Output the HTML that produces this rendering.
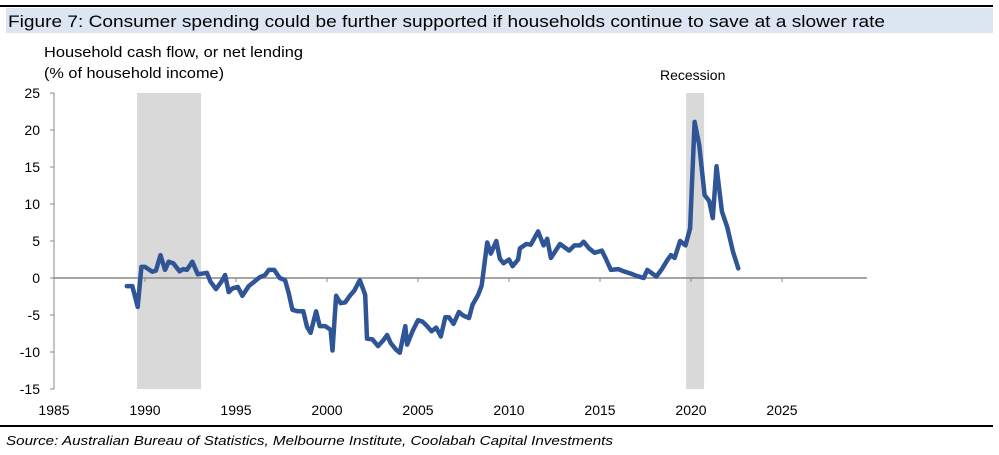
<!DOCTYPE html>
<html><head><meta charset="utf-8"><style>
body{margin:0;background:#fff;width:999px;height:455px;overflow:hidden;font-family:"Liberation Sans",sans-serif}
svg{display:block}
</style></head><body>
<svg width="999" height="455" id="c">
<line x1="0" y1="6" x2="993" y2="6" stroke="#000" stroke-width="2"/>
<rect x="6" y="8" width="987" height="25" fill="#dce6f2"/>
<text x="8" y="27" font-size="17" textLength="877" lengthAdjust="spacingAndGlyphs" fill="#000">Figure 7: Consumer spending could be further supported if households continue to save at a slower rate</text>
<text x="44" y="57" font-size="14.5" textLength="259" lengthAdjust="spacingAndGlyphs">Household cash flow, or net lending</text>
<text x="44" y="78" font-size="14.5" textLength="180" lengthAdjust="spacingAndGlyphs">(% of household income)</text>
<text x="660" y="80" font-size="14">Recession</text>
<g id="bands"></g>
<g id="axes"></g>
<g id="series"></g>
<line x1="0" y1="426" x2="993" y2="426" stroke="#000" stroke-width="2"/>
<text x="6" y="445" font-size="13" font-style="italic" textLength="607" lengthAdjust="spacingAndGlyphs">Source: Australian Bureau of Statistics, Melbourne Institute, Coolabah Capital Investments</text>
</svg>
<script>
const years=[1989.0,1989.3,1989.6,1989.8,1990.0,1990.4,1990.6,1990.85,1991.1,1991.3,1991.55,1991.9,1992.1,1992.3,1992.6,1992.9,1993.4,1993.6,1993.9,1994.2,1994.4,1994.6,1994.8,1995.1,1995.35,1995.7,1996.0,1996.3,1996.6,1996.8,1997.1,1997.4,1997.7,1997.9,1998.1,1998.4,1998.7,1998.9,1999.1,1999.4,1999.6,1999.9,2000.2,2000.3,2000.5,2000.75,2001.0,2001.25,2001.5,2001.8,2002.0,2002.1,2002.2,2002.5,2002.8,2003.1,2003.3,2003.5,2003.8,2004.0,2004.3,2004.4,2004.7,2005.0,2005.25,2005.5,2005.75,2006.0,2006.25,2006.5,2006.7,2006.95,2007.25,2007.5,2007.8,2008.0,2008.3,2008.5,2008.8,2009.0,2009.3,2009.5,2009.7,2010.0,2010.2,2010.5,2010.6,2010.95,2011.2,2011.6,2011.9,2012.1,2012.3,2012.8,2013.3,2013.6,2013.9,2014.1,2014.4,2014.7,2015.1,2015.3,2015.6,2016.0,2016.3,2016.7,2017.0,2017.4,2017.6,2018.1,2018.4,2018.7,2018.9,2019.1,2019.4,2019.7,2019.95,2020.2,2020.45,2020.75,2021.0,2021.2,2021.4,2021.7,2022.0,2022.3,2022.6];
const values=[-1.1,-1.1,-3.9,1.5,1.5,0.85,1.0,3.1,1.1,2.2,2.0,0.9,1.2,1.1,2.2,0.5,0.7,-0.5,-1.5,-0.5,0.4,-1.9,-1.4,-1.2,-2.4,-1.1,-0.5,0.1,0.4,1.1,1.1,0,-0.3,-2.1,-4.3,-4.5,-4.5,-6.6,-7.4,-4.5,-6.5,-6.5,-7.0,-9.8,-2.4,-3.4,-3.3,-2.4,-1.7,-0.3,-1.6,-2.3,-8.2,-8.3,-9.2,-8.4,-7.7,-8.8,-9.7,-10.1,-6.5,-9.0,-7.2,-5.7,-5.9,-6.5,-7.2,-6.7,-7.9,-5.3,-5.3,-6.2,-4.6,-5.1,-5.4,-3.6,-2.3,-1.0,4.8,3.3,5.0,2.6,2.0,2.5,1.6,2.5,4.0,4.6,4.5,6.3,4.4,5.3,2.7,4.6,3.7,4.4,4.4,4.9,4.0,3.4,3.7,2.7,1.1,1.2,0.9,0.6,0.3,0,1.1,0.2,1.2,2.4,3.1,2.7,5.0,4.4,6.7,21.1,18.0,11.2,10.4,8.1,15.1,9.0,6.8,3.6,1.3];
const recessionStart=[1989.56,2019.73];
const recessionEnd=[1993.08,2020.72];
const yTicks=[25,20,15,10,5,0,-5,-10,-15];
const xTicks=[1985,1990,1995,2000,2005,2010,2015,2020,2025];
const NS='http://www.w3.org/2000/svg';
function X(yr){return 145+(yr-1990)*18.2;}
function Y(v){return 278-v*7.4;}
function mk(tag,attrs,parent){const e=document.createElementNS(NS,tag);for(const k in attrs)e.setAttribute(k,attrs[k]);document.getElementById(parent).appendChild(e);return e;}
for(let i=0;i<recessionStart.length;i++){
  const r=mk('rect',{x:X(recessionStart[i]),y:Y(25),width:X(recessionEnd[i])-X(recessionStart[i]),height:Y(-15)-Y(25),fill:'#d9d9d9'},'bands');
  
  
}
let a=mk('line',{x1:54,y1:Y(25),x2:54,y2:Y(-15),stroke:'#888','stroke-width':1},'axes');


a=mk('line',{x1:54,y1:Y(0),x2:867,y2:Y(0),stroke:'#888','stroke-width':1.5},'axes');


yTicks.forEach(v=>{
  const t=mk('line',{x1:50,y1:Y(v),x2:54,y2:Y(v),stroke:'#888'},'axes');
  
  
  const l=mk('text',{x:40,y:Y(v)+5,'font-size':14,'text-anchor':'end'},'axes');
  l.textContent=v;
  
  
});
xTicks.forEach(yr=>{
  const t=mk('line',{x1:X(yr),y1:Y(0),x2:X(yr),y2:Y(0)+4,stroke:'#888'},'axes');
  
  
  const l=mk('text',{x:X(yr),y:415,'font-size':14,'text-anchor':'middle'},'axes');
  l.textContent=yr;
  
  
});
const pts=years.map((y,i)=>X(y).toFixed(1)+','+Y(values[i]).toFixed(1)).join(' ');
const pl=mk('polyline',{points:pts,fill:'none',stroke:'#2f5597','stroke-width':4.5,'stroke-linejoin':'round','stroke-linecap':'round'},'series');


</script>
</body></html>
